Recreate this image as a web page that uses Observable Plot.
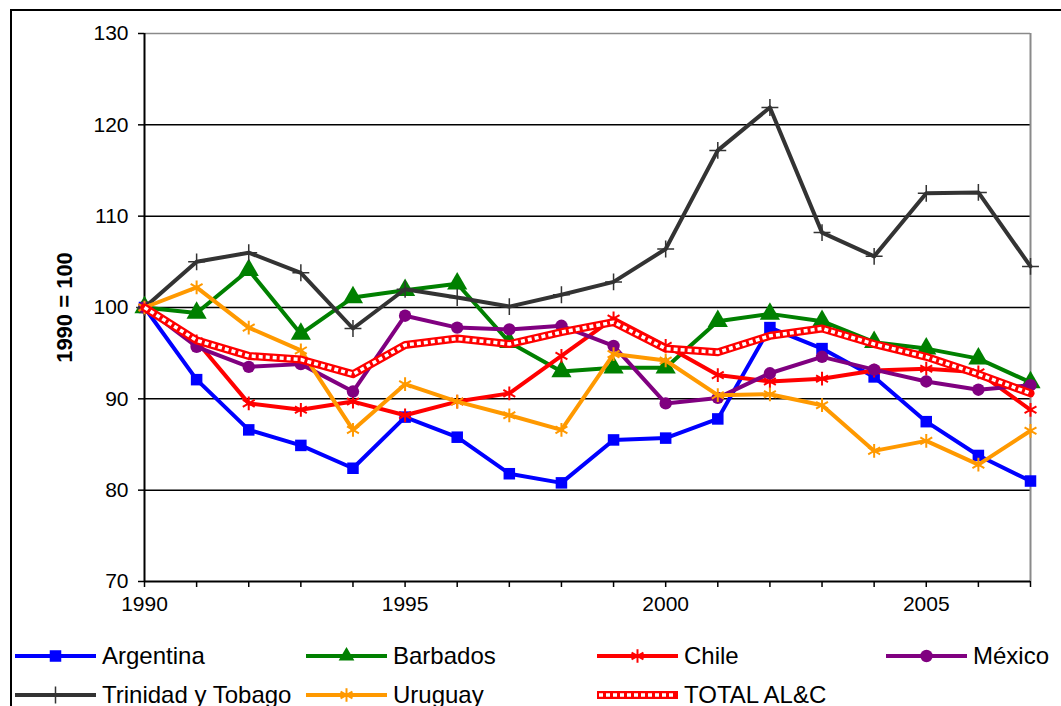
<!DOCTYPE html>
<html><head><meta charset="utf-8">
<script src="https://cdn.jsdelivr.net/npm/d3@7"></script>
<script src="https://cdn.jsdelivr.net/npm/@observablehq/plot@0.6"></script>
<style>
html,body{margin:0;padding:0;background:#fff;overflow:hidden;width:1061px;height:706px;}
#frame{position:absolute;left:10px;top:9px;width:1200px;height:900px;border:2px solid #000;box-sizing:border-box;}
#chart{position:absolute;left:0;top:0;}
#legend{position:absolute;left:0;top:630px;width:1061px;height:76px;font-family:"Liberation Sans",Arial,sans-serif;font-size:24px;color:#000;}
.item{position:absolute;display:flex;align-items:center;height:30px;white-space:nowrap;}
.item svg{display:block;margin-right:6px;}
</style></head><body>
<div id="frame"></div>
<div id="chart"></div>
<div id="legend"></div>
<script>
const years = [1990,1991,1992,1993,1994,1995,1996,1997,1998,1999,2000,2001,2002,2003,2004,2005,2006,2007];
const argentina = [100,92.1,86.6,84.9,82.4,88.0,85.8,81.8,80.8,85.5,85.7,87.8,97.8,95.5,92.4,87.5,83.8,81.0];
const barbados  = [100,99.4,104.1,97.1,101.1,101.9,102.6,96.2,93.0,93.4,93.4,98.5,99.3,98.5,96.2,95.5,94.4,91.8];
const chile     = [100,96.3,89.5,88.8,89.7,88.2,89.7,90.6,94.7,98.8,95.8,92.6,91.9,92.2,93.1,93.3,92.9,88.8];
const mexico    = [100,95.7,93.5,93.8,90.8,99.1,97.8,97.6,98.0,95.8,89.5,90.1,92.8,94.6,93.2,91.9,91.0,91.5];
const trinidad  = [100,105.0,106.0,103.8,97.7,102.0,101.1,100.1,101.4,102.8,106.4,117.2,121.9,108.2,105.6,112.5,112.6,104.5];
const uruguay   = [100,102.2,97.8,95.3,86.6,91.6,89.7,88.2,86.6,94.9,94.2,90.4,90.5,89.3,84.3,85.4,82.8,86.5];
const total     = [100,96.4,94.7,94.3,92.7,95.9,96.6,96.0,97.3,98.4,95.5,95.1,96.9,97.7,96.0,94.6,92.7,90.6];
const yTicks = [70,80,90,100,110,120,130];
const xLabels = [1990,1995,2000,2005];
const yTitle = "1990 = 100";

const series = [
  {name:"Argentina", values:argentina, color:"#0000FF", symbol:"square", r:6.5, filled:true},
  {name:"Barbados", values:barbados, color:"#008000", symbol:"triangle", r:7.5, filled:true},
  {name:"Chile", values:chile, color:"#FF0000", symbol:"asterisk", r:6.5, filled:false, sw:2},
  {name:"México", values:mexico, color:"#800080", symbol:"circle", r:6.2, filled:true},
  {name:"Trinidad y Tobago", values:trinidad, color:"#333333", symbol:"plus", r:5.5, filled:false, sw:1.5},
  {name:"Uruguay", values:uruguay, color:"#FF9900", symbol:"asterisk", r:6.5, filled:false, sw:2},
  {name:"TOTAL AL&C", values:total, color:"#FF0000", symbol:null, total:true}
];
const rows = s => years.map((yr,i)=>({year:yr, value:s.values[i]}));

const marks = [
  Plot.ruleY([80,90,100,110,120], {stroke:"#000", strokeWidth:1.5}),
  Plot.ruleY([130], {stroke:"#8a8a8a", strokeWidth:1.5}),
  Plot.ruleX([2007], {stroke:"#8a8a8a", strokeWidth:2}),
  Plot.axisY({ticks:yTicks, tickSize:6, tickPadding:10, label:null, fontSize:21, strokeWidth:1.5}),
  Plot.axisX({ticks:years, tickFormat:d=>xLabels.includes(d)?String(d):"", tickSize:6, tickPadding:9, label:null, fontSize:21, strokeWidth:1.5}),
  Plot.ruleX([1990], {stroke:"#000", strokeWidth:2}),
  Plot.ruleY([70], {stroke:"#000", strokeWidth:2}),
  Plot.text([yTitle], {frameAnchor:"left", dx:-80, rotate:-90, textAnchor:"middle", lineAnchor:"middle", fontWeight:"bold", fontSize:22})
];
for (const s of series) {
  const d = rows(s);
  if (s.total) {
    marks.push(Plot.line(d, {x:"year", y:"value", stroke:s.color, strokeWidth:8}));
    marks.push(Plot.line(d, {x:"year", y:"value", stroke:"#fff", strokeWidth:3.5, strokeDasharray:"4 3", strokeLinecap:"butt", strokeLinejoin:"miter"}));
  } else {
    marks.push(Plot.line(d, {x:"year", y:"value", stroke:s.color, strokeWidth:4}));
    if (s.filled) marks.push(Plot.dot(d, {x:"year", y:"value", symbol:s.symbol, r:s.r, fill:s.color, stroke:"none"}));
    else marks.push(Plot.dot(d, {x:"year", y:"value", symbol:s.symbol, r:s.r, fill:"none", stroke:s.color, strokeWidth:s.sw}));
  }
}

const chart = Plot.plot({
  width:1061, height:630,
  marginLeft:144, marginRight:31, marginTop:33, marginBottom:49,
  x:{domain:[1990,2007]},
  y:{domain:[70,130]},
  style:{fontFamily:"'Liberation Sans', Arial, sans-serif", fontSize:"21px", color:"#000", background:"transparent", overflow:"visible"},
  marks
});
document.getElementById("chart").appendChild(chart);

// Legend
const symMap = {square:d3.symbolSquare, triangle:d3.symbolTriangle2, asterisk:d3.symbolAsterisk, circle:d3.symbolCircle, plus:d3.symbolPlus};
const pos = [
  {x:15, y:26},{x:306, y:26},{x:597, y:26},{x:886, y:26},
  {x:15, y:65},{x:306, y:65},{x:597, y:65}
];
const legend = document.getElementById("legend");
series.forEach((s,i)=>{
  const p = pos[i];
  const div = document.createElement("div");
  div.className = "item";
  div.style.left = p.x+"px";
  div.style.top = (p.y-15)+"px";
  const svg = d3.create("svg").attr("width",81).attr("height",20);
  if (s.total) {
    svg.append("line").attr("x1",0).attr("x2",81).attr("y1",10).attr("y2",10).attr("stroke",s.color).attr("stroke-width",8);
    svg.append("line").attr("x1",2).attr("x2",79).attr("y1",10).attr("y2",10).attr("stroke","#fff").attr("stroke-width",3.5).attr("stroke-dasharray","4 3");
  } else {
    svg.append("line").attr("x1",0).attr("x2",81).attr("y1",10).attr("y2",10).attr("stroke",s.color).attr("stroke-width",4);
    const path = d3.symbol(symMap[s.symbol], Math.PI*s.r*s.r)();
    const m = svg.append("path").attr("d",path).attr("transform","translate(40.5,10)");
    if (s.filled) m.attr("fill",s.color); else m.attr("fill","none").attr("stroke",s.color).attr("stroke-width",s.sw);
  }
  div.appendChild(svg.node());
  const t = document.createElement("span");
  t.textContent = s.name;
  div.appendChild(t);
  legend.appendChild(div);
});
</script>
</body></html>
